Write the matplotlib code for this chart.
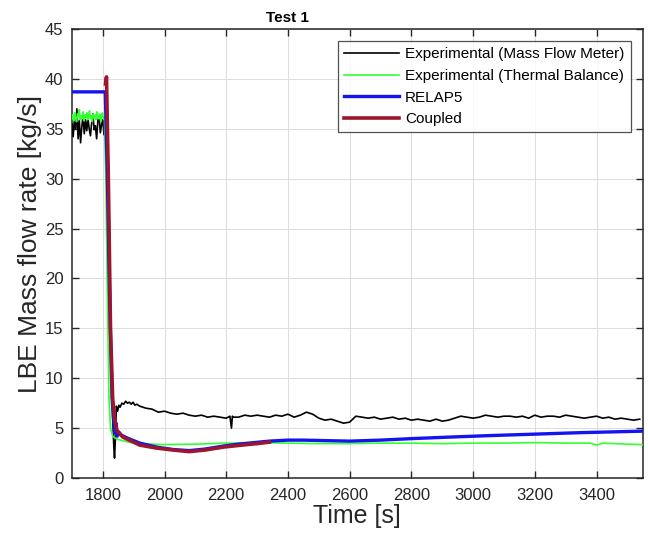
import matplotlib.pyplot as plt
import numpy as np

plt.rcParams['font.family'] = ['Liberation Sans', 'DejaVu Sans']

# ─── データ ───
# 実験値（質量流量計）: 遷移前の振動部分
mfm_pre_t = np.arange(1700, 1818, 4)
mfm_pre_v = [35.5, 34.2, 36.0, 35.0, 37.0, 34.0, 35.8, 33.6, 35.2, 36.3,
             34.5, 35.9, 34.8, 36.0, 35.0, 34.3, 35.6, 36.5, 34.9, 35.3,
             34.0, 35.8, 36.2, 34.6, 35.4, 35.9, 34.4, 35.7, 36.0, 34.8]
# 急減部分
mfm_drop_t = [1820, 1826, 1832, 1836, 1838, 1841, 1844, 1848, 1852, 1856,
              1862, 1868, 1874, 1880, 1886, 1892, 1898, 1904, 1910]
mfm_drop_v = [28.0, 15.0, 6.0, 3.0, 2.0, 4.0, 7.2, 6.7, 7.3, 7.1,
              7.5, 7.4, 7.7, 7.5, 7.6, 7.4, 7.6, 7.3, 7.4]
# 準定常部分
mfm_post_t = np.arange(1920, 3560, 20)
mfm_post_v = [7.2, 7.0, 6.9, 6.6, 6.7, 6.5, 6.4, 6.5, 6.3, 6.2,
              6.3, 6.1, 6.2, 6.1, 6.0, 6.2, 6.1, 6.3, 6.2, 6.3,
              6.2, 6.1, 6.3, 6.2, 6.4, 6.1, 6.3, 6.6, 6.4, 6.0,
              5.8, 5.9, 5.7, 5.5, 5.6, 6.2, 6.1, 6.0, 6.1, 5.9,
              6.0, 6.1, 5.9, 6.0, 5.8, 5.9, 5.8, 5.7, 5.9, 5.7,
              5.8, 6.0, 6.2, 6.1, 6.0, 6.1, 6.3, 6.2, 6.1, 6.2,
              6.2, 6.1, 6.2, 6.0, 6.3, 6.1, 6.2, 6.2, 6.1, 6.3,
              6.2, 6.1, 6.0, 6.1, 6.2, 6.0, 6.1, 5.9, 6.0, 5.9,
              5.8, 5.9]
mfm_dip_t = [2212, 2217, 2222]
mfm_dip_v = [6.2, 5.0, 6.1]

# 実験値（熱収支）
tb_pre_t = np.arange(1700, 1808, 3)
tb_pre_v = [36.0, 36.4, 35.8, 36.6, 36.1, 35.7, 36.5, 36.2, 36.9, 35.9,
            36.3, 36.0, 36.7, 35.8, 36.4, 36.1, 36.6, 35.9, 36.2, 36.8,
            36.0, 36.3, 35.7, 36.5, 36.1, 36.4, 35.9, 36.7, 36.2, 36.0,
            36.5, 35.8, 36.3, 36.6, 36.0, 36.2]
tb_post_t = [1810, 1815, 1820, 1825, 1832, 1845, 1870, 1900, 1950, 2000,
             2100, 2200, 2300, 2400, 2500, 2600, 2700, 2800, 2900, 3000,
             3100, 3200, 3300, 3380, 3400, 3420, 3500, 3550]
tb_post_v = [30.0, 18.0, 8.0, 5.0, 4.2, 3.9, 3.7, 3.5, 3.4, 3.35,
             3.4, 3.5, 3.55, 3.5, 3.45, 3.45, 3.5, 3.5, 3.45, 3.5,
             3.5, 3.55, 3.5, 3.5, 3.3, 3.5, 3.4, 3.35]

# RELAP5
relap_t = [1700, 1808, 1815, 1822, 1830, 1836, 1840, 1843, 1847, 1852,
           1860, 1880, 1920, 1975, 2030, 2080, 2130, 2190, 2240, 2290,
           2340, 2400, 2450, 2520, 2600, 2700, 2800, 2920, 3050, 3200,
           3350, 3550]
relap_v = [38.7, 38.7, 30.0, 18.0, 8.0, 5.5, 4.5, 5.5, 4.2, 4.6,
           4.3, 4.0, 3.5, 3.1, 2.85, 2.75, 2.9, 3.2, 3.4, 3.55,
           3.7, 3.8, 3.8, 3.75, 3.7, 3.8, 3.95, 4.1, 4.25, 4.4,
           4.55, 4.7]

# 連成解析
coupled_t = [1809, 1812, 1818, 1825, 1832, 1838, 1845, 1865, 1920, 1975,
             2030, 2080, 2130, 2190, 2250, 2300, 2340]
coupled_v = [39.5, 40.2, 30.0, 15.0, 8.0, 6.0, 4.8, 4.1, 3.3, 3.0,
             2.8, 2.65, 2.8, 3.1, 3.3, 3.45, 3.6]

# ─── 描画 ───
fig = plt.figure(figsize=(6.48, 5.42), dpi=100)
ax = fig.add_axes([0.111, 0.118, 0.881, 0.8285])

mfm_t = np.concatenate([mfm_pre_t, mfm_drop_t, mfm_post_t])
mfm_v = np.concatenate([mfm_pre_v, mfm_drop_v, mfm_post_v])
order = np.argsort(mfm_t, kind='stable')
mt = list(mfm_t[order]); mv = list(mfm_v[order])
# 2220s付近の落ち込みを挿入
for t, v in zip(mfm_dip_t, mfm_dip_v):
    i = np.searchsorted(mt, t)
    mt.insert(i, t); mv.insert(i, v)

tb_t = np.concatenate([tb_pre_t, tb_post_t])
tb_v = np.concatenate([tb_pre_v, tb_post_v])

ax.plot(mt, mv, color='black', lw=1.2, label='Experimental (Mass Flow Meter)', zorder=3)
ax.plot(tb_t, tb_v, color='#33ff33', lw=1.2, label='Experimental (Thermal Balance)', zorder=4)
ax.plot(relap_t, relap_v, color='#1414f0', lw=2.4, label='RELAP5', zorder=5)
ax.plot(coupled_t, coupled_v, color='#9e1530', lw=2.6, label='Coupled', zorder=6)

ax.set_xlim(1700, 3550)
ax.set_ylim(0, 45)
ax.set_xticks(np.arange(1800, 3500, 200))
ax.set_yticks(np.arange(0, 46, 5))
ax.tick_params(direction='in', top=True, right=True, length=5, width=1,
               labelsize=12, colors='#262626', labelcolor='#262626')
ax.tick_params(axis='x', pad=7)
ax.tick_params(axis='y', pad=6)
ax.grid(True, color='#dcdcdc', lw=0.7)
ax.set_axisbelow(True)
for s in ax.spines.values():
    s.set_linewidth(1.1)
    s.set_color('#262626')

ax.set_xlabel('Time [s]', fontsize=18, color='#262626', labelpad=1)
ax.set_ylabel('LBE Mass flow rate [kg/s]', fontsize=19, color='#262626')
ax.yaxis.set_label_coords(-0.053, 0.521)
ax.set_title('Test 1', fontsize=11, fontweight='bold', pad=5, x=(288 - 72) / 571)

leg = ax.legend(loc='upper right', fontsize=11, frameon=True, fancybox=False,
                edgecolor='#262626', handlelength=3.6, handletextpad=0.4,
                borderaxespad=0.8, labelspacing=0.5)
leg.get_frame().set_linewidth(0.9)

plt.savefig('out.png', dpi=100)
